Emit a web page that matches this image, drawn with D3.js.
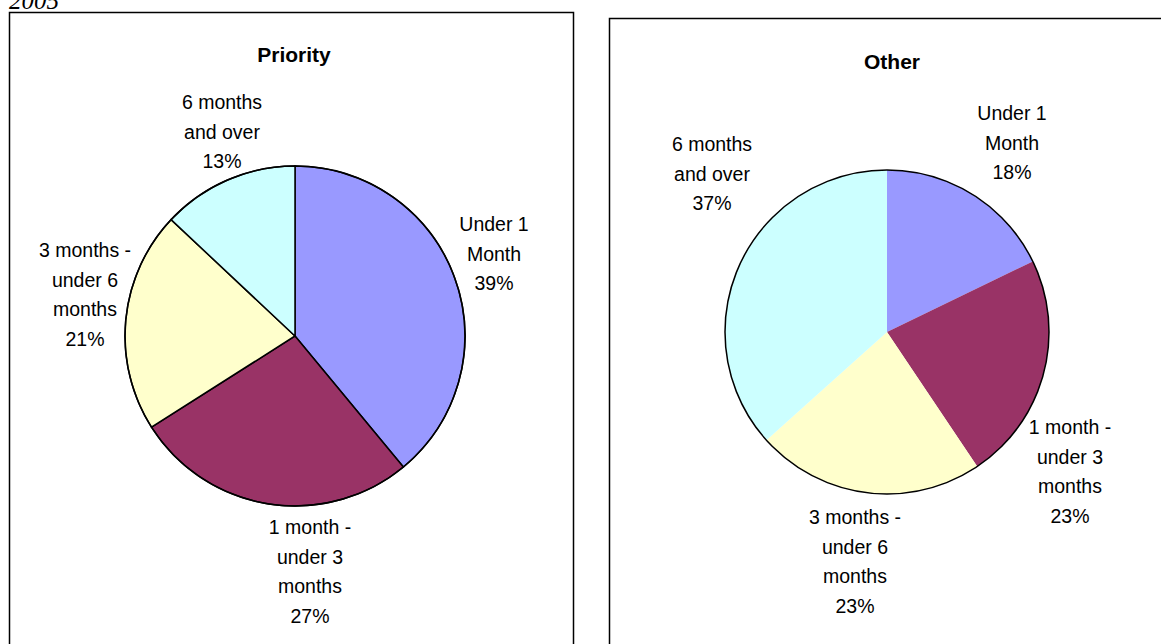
<!DOCTYPE html>
<html><head><meta charset="utf-8">
<script src="https://cdn.jsdelivr.net/npm/d3@7"></script>
<style>body{margin:0;background:#fff;overflow:hidden}svg{display:block}</style>
</head><body>
<script>
const categories = ["Under 1 Month", "1 month - under 3 months", "3 months - under 6 months", "6 months and over"];
const priorityValues = [39, 27, 21, 13];
const otherValues = [18, 23, 23, 37];
const priorityLabels = [["Under 1","Month","39%"],["1 month -","under 3","months","27%"],["3 months -","under 6","months","21%"],["6 months","and over","13%"]];
const otherLabels = [["Under 1","Month","18%"],["1 month -","under 3","months","23%"],["3 months -","under 6","months","23%"],["6 months","and over","37%"]];
const colors = ["#9999FF","#993366","#FFFFCC","#CCFFFF"];

const W=1161,H=644;
const svg=d3.select("body").append("svg").attr("width",W).attr("height",H);
svg.append("text").attr("x",9).attr("y",9).attr("font-family","Liberation Serif").attr("font-style","italic").attr("font-size",25).text("2005");

function panel(cfg){
  const g=svg.append("g");
  g.append("rect").attr("x",cfg.box[0]+0.5).attr("y",cfg.box[1]+0.5).attr("width",cfg.box[2]).attr("height",cfg.box[3]).attr("fill","#fff").attr("stroke","#000").attr("stroke-width",1.5);
  g.append("text").attr("x",cfg.tx).attr("y",cfg.ty).attr("text-anchor","middle").attr("font-family","Liberation Sans, Arial").attr("font-weight","bold").attr("font-size",21).text(cfg.title);
  const pie=d3.pie().sort(null).value(d=>d);
  const arcs=pie(cfg.values);
  const arc=d3.arc().innerRadius(0).outerRadius(cfg.r);
  const pg=g.append("g").attr("transform",`translate(${cfg.cx},${cfg.cy})`);
  pg.selectAll("path").data(arcs).join("path").attr("d",arc).attr("fill",(d,i)=>colors[i])
    .attr("stroke",cfg.sep?"#000":"none").attr("stroke-width",1.5);
  pg.append("circle").attr("r",cfg.r).attr("fill","none").attr("stroke","#000").attr("stroke-width",1.5);
  cfg.labels.forEach((lines,i)=>{
    const t=g.append("text").attr("font-family","Liberation Sans, Arial").attr("font-size",19.5).attr("text-anchor","middle");
    lines.forEach((l,j)=>t.append("tspan").attr("x",cfg.lpos[i][0]).attr("y",cfg.lpos[i][1]+j*29.5).text(l));
  });
}
panel({box:[9,12,564,700],title:"Priority",tx:294,ty:62,cx:295,cy:336,r:170,values:priorityValues,labels:priorityLabels,sep:true,
  lpos:[[494,231],[310,534],[85,257],[222,109]]});
panel({box:[609,18,600,700],title:"Other",tx:892,ty:69,cx:887,cy:332,r:162,values:otherValues,labels:otherLabels,sep:false,
  lpos:[[1012,120],[1070,434],[855,524],[712,151]]});
</script>
</body></html>
